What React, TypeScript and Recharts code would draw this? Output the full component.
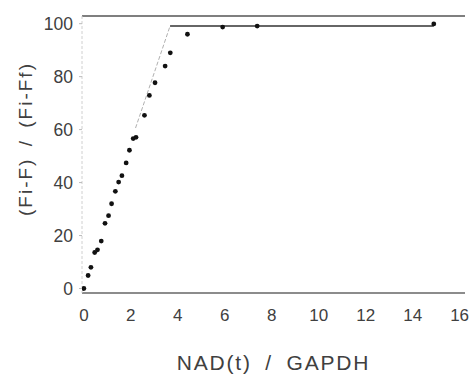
import React from "react";
import {
  ComposedChart,
  Scatter,
  XAxis,
  YAxis,
  ReferenceLine,
  Label,
} from "recharts";

const xTicks = [0, 2, 4, 6, 8, 10, 12, 14, 16];
const yTicks = [0, 20, 40, 60, 80, 100];

const pointsX = [0, 0.18, 0.3, 0.46, 0.58, 0.74, 0.9, 1.05, 1.18, 1.34, 1.48, 1.62, 1.8, 1.94, 2.1, 2.22, 2.58, 2.79, 3.03, 3.46, 3.68, 4.41, 5.91, 7.38, 14.9];
const pointsY = [0, 4.9, 8, 13.6, 14.6, 17.9, 24.6, 27.5, 32, 36.7, 40.2, 42.6, 47.4, 52.2, 56.6, 57.1, 65.4, 72.9, 77.7, 84, 89, 96, 98.7, 99.1, 99.9];

const plateauX = [3.67, 14.9];
const plateauY = [99.1, 99.1];

const fitX = [2.2, 3.67];
const fitY = [60.6, 99.1];

const xDomain = [-0.08, 16.23];
const yDomain = [-1.7, 102.9];

const points = pointsX.map((x, i) => ({ x, y: pointsY[i] }));
const plateau = plateauX.map((x, i) => ({ x, y: plateauY[i] }));
const fit = fitX.map((x, i) => ({ x, y: fitY[i] }));

const font = "'Liberation Sans', Arial, sans-serif";
const textColor = "#404040";

const Dot = (props: any) => {
  const { cx, cy } = props;
  if (cx == null || cy == null) return null;
  return <circle cx={cx} cy={cy} r={2.4} fill="#111" />;
};

const NoShape = () => null;

export default function App() {
  return (
    <div style={{ position: "absolute", left: 0, top: 0, background: "#fff" }}>
      <ComposedChart
        width={471}
        height={374}
        margin={{ top: 16, right: 6, bottom: 20, left: 0 }}
      >
        <XAxis
          type="number"
          dataKey="x"
          domain={xDomain}
          ticks={xTicks}
          allowDataOverflow
          tickLine={false}
          tickSize={0}
          tickMargin={16}
          height={61}
          axisLine={{ stroke: "#666", strokeWidth: 1.5 }}
          tick={{ fill: textColor, fontSize: 17, fontFamily: font }}
        >
          <Label
            content={(p: any) => {
              const vb = p.viewBox;
              return (
                <text
                  x={vb.x + vb.width / 2}
                  y={370}
                  textAnchor="middle"
                  fill={textColor}
                  fontSize={21}
                  fontFamily={font}
                  letterSpacing={1.8}
                  wordSpacing={6}
                >
                  NAD(t) / GAPDH
                </text>
              );
            }}
          />
        </XAxis>
        <YAxis
          type="number"
          dataKey="y"
          domain={yDomain}
          ticks={yTicks}
          allowDataOverflow
          width={82}
          tickSize={3}
          tickMargin={6}
          tickLine={{ stroke: "#bbb" }}
          axisLine={{ stroke: "#d0d0d0", strokeDasharray: "3 2" }}
          tick={{ fill: textColor, fontSize: 17.5, fontFamily: font }}
        >
          <Label
            content={() => (
              <text
                x={0}
                y={0}
                transform="translate(32,139) rotate(-90)"
                textAnchor="middle"
                fill={textColor}
                fontSize={19}
                fontFamily={font}
                letterSpacing={2}
                wordSpacing={4}
              >
                (Fi-F) / (Fi-Ff)
              </text>
            )}
          />
        </YAxis>
        <ReferenceLine y={yDomain[1]} stroke="#555" strokeWidth={1.5} ifOverflow="extendDomain" />
        <Scatter
          data={fit}
          line={{ stroke: "#b0b0b0", strokeWidth: 1, strokeDasharray: "4 2" }}
          shape={NoShape}
          isAnimationActive={false}
        />
        <Scatter
          data={plateau}
          line={{ stroke: "#333", strokeWidth: 1.5 }}
          shape={NoShape}
          isAnimationActive={false}
        />
        <Scatter data={points} shape={Dot} isAnimationActive={false} />
      </ComposedChart>
    </div>
  );
}
